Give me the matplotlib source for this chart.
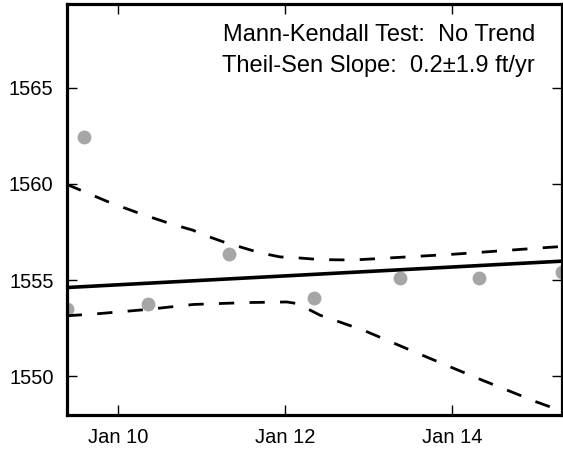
import matplotlib
matplotlib.use("Agg")
import matplotlib.pyplot as plt

plt.rcParams['font.family'] = ['Liberation Sans', 'DejaVu Sans']
plt.rcParams['lines.scale_dashes'] = False

# ---- data (decimal years) ----
obs_years = [2009.38, 2009.59, 2010.35, 2011.33, 2012.34, 2013.38, 2014.33, 2015.32]
obs_values = [1553.53, 1562.46, 1553.79, 1556.35, 1554.10, 1555.14, 1555.14, 1555.43]

trend_years = [2009.38, 2015.32]
trend_values = [1554.62, 1555.99]

upper_years = [2009.38, 2009.90, 2010.26, 2010.62, 2010.90, 2010.98, 2011.26, 2011.70,
               2011.94, 2012.10, 2012.42, 2012.82, 2013.14, 2014.02, 2015.14, 2015.32]
upper_values = [1559.98, 1559.03, 1558.46, 1557.94, 1557.59, 1557.42, 1556.99, 1556.42,
                1556.21, 1556.18, 1556.07, 1556.05, 1556.13, 1556.35, 1556.70, 1556.75]

lower_years = [2009.38, 2009.78, 2010.34, 2010.90, 2011.54, 2012.02, 2012.14, 2012.22,
               2012.42, 2012.94, 2013.62, 2014.34, 2015.02, 2015.32]
lower_values = [1553.15, 1553.27, 1553.48, 1553.74, 1553.84, 1553.87, 1553.79, 1553.62,
                1553.18, 1552.40, 1551.15, 1549.85, 1548.67, 1548.20]

x_ticks = [2010, 2012, 2014]
x_tick_labels = ["Jan 10", "Jan 12", "Jan 14"]
y_ticks = [1550, 1555, 1560, 1565]

line1 = "Mann-Kendall Test:  No Trend"
line2 = "Theil-Sen Slope:  0.2\u00b11.9 ft/yr"

# ---- figure ----
W, H = 563, 450
fig = plt.figure(figsize=(W / 100, H / 100), dpi=100)
ax = fig.add_axes([66.7 / W, (H - 415) / H, (562 - 66.7) / W, (415 - 4.3) / H])

ax.plot(obs_years, obs_values, 'o', color='#a6a6a6', markersize=10,
        markeredgewidth=0, zorder=2, clip_on=True)
ax.plot(trend_years, trend_values, '-', color='black', linewidth=2.6, zorder=3)
ax.plot(upper_years, upper_values, color='black', linewidth=2.0,
        dashes=[11, 11], zorder=3)
ax.plot(lower_years, lower_values, color='black', linewidth=2.0,
        dashes=[11, 11], zorder=3)

ax.set_xlim(obs_years[0], obs_years[-1])
ax.set_ylim(1548.0, 1569.33)
ax.set_xticks(x_ticks)
ax.set_xticklabels(x_tick_labels)
ax.set_yticks(y_ticks)

for s in ax.spines.values():
    s.set_linewidth(2.3)
ax.tick_params(direction='in', length=7, width=1, top=True, right=True,
               labelsize=14.5, pad=9.5)

fig.text(535 / W, 1 - 41 / H, line1, ha='right', va='baseline', fontsize=17)
fig.text(535 / W, 1 - 71.7 / H, line2, ha='right', va='baseline', fontsize=17)

fig.savefig("out.png", dpi=100)
